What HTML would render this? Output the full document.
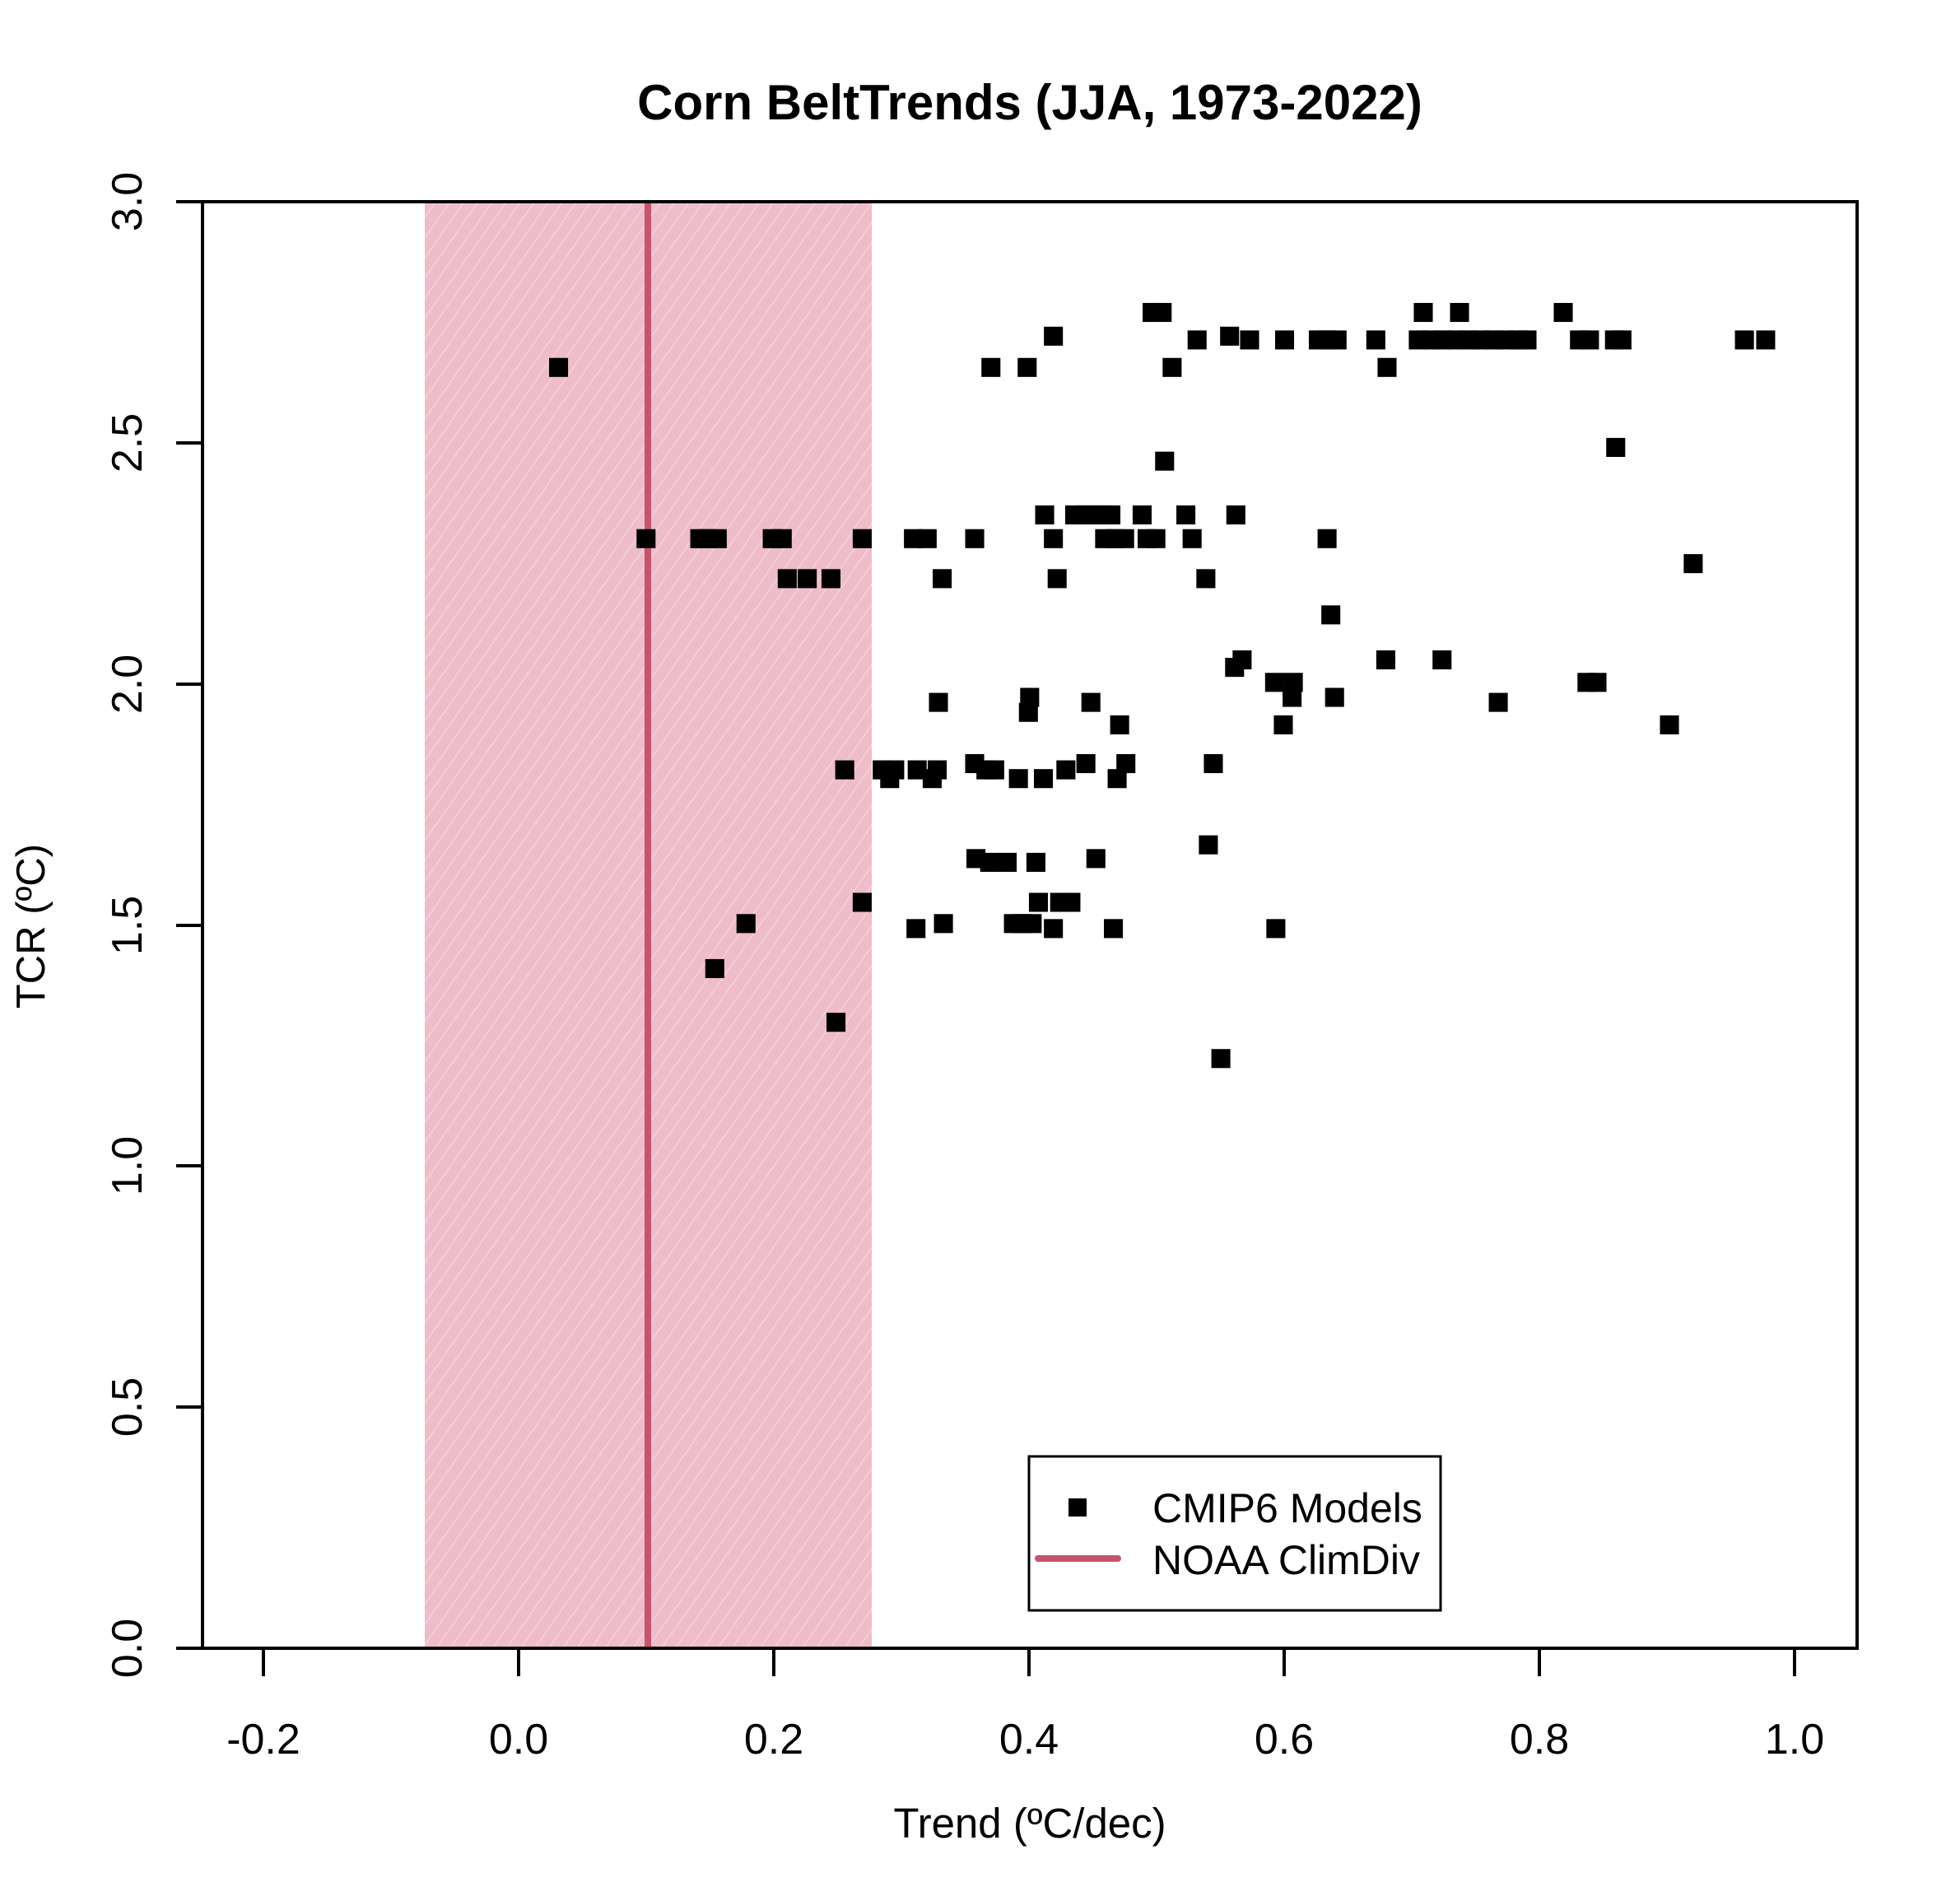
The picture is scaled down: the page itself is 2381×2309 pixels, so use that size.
<!DOCTYPE html>
<html><head><meta charset="utf-8"><style>html,body{margin:0;padding:0;background:#fff}svg{display:block}</style></head>
<body>
<svg width="2381" height="2309" viewBox="0 0 2381 2309" xmlns="http://www.w3.org/2000/svg" xmlns:xlink="http://www.w3.org/1999/xlink" font-family="Liberation Sans, Arial, sans-serif">
<defs>
<pattern id="h" patternUnits="userSpaceOnUse" width="14" height="14" patternTransform="rotate(35)">
<rect width="14" height="14" fill="#eebdc9"/>
<line x1="0" y1="0" x2="0" y2="14" stroke="#fff" stroke-opacity="0.45" stroke-width="2"/>
</pattern>
<rect id="s" x="-7.6" y="-7.6" width="15.2" height="15.2" fill="#000"/>
</defs>
<rect x="516" y="245" width="543" height="1757" fill="url(#h)"/>
<line x1="787" y1="245" x2="787" y2="2002" stroke="#c6546d" stroke-width="8"/>
<g transform="scale(1.518)">
<use href="#s" x="922" y="250"/><use href="#s" x="930" y="250"/><use href="#s" x="1139" y="250"/><use href="#s" x="1168" y="250"/><use href="#s" x="1251" y="250"/>
<use href="#s" x="843" y="269"/><use href="#s" x="984" y="269"/>
<use href="#s" x="958" y="272"/><use href="#s" x="1000" y="272"/><use href="#s" x="1028" y="272"/><use href="#s" x="1055" y="272"/><use href="#s" x="1062" y="272"/><use href="#s" x="1070" y="272"/><use href="#s" x="1101" y="272"/><use href="#s" x="1135" y="272"/><use href="#s" x="1145" y="272"/><use href="#s" x="1155" y="272"/><use href="#s" x="1165" y="272"/><use href="#s" x="1175" y="272"/><use href="#s" x="1185" y="272"/><use href="#s" x="1195" y="272"/><use href="#s" x="1205" y="272"/><use href="#s" x="1215" y="272"/><use href="#s" x="1222" y="272"/><use href="#s" x="1264" y="272"/><use href="#s" x="1272" y="272"/><use href="#s" x="1292" y="272"/><use href="#s" x="1298" y="272"/><use href="#s" x="1396" y="272"/><use href="#s" x="1413" y="272"/>
<use href="#s" x="447" y="294"/><use href="#s" x="793" y="294"/><use href="#s" x="822" y="294"/><use href="#s" x="938" y="294"/><use href="#s" x="1110" y="294"/>
<use href="#s" x="1293" y="358"/><use href="#s" x="932" y="369"/>
<use href="#s" x="836" y="412"/><use href="#s" x="860" y="412"/><use href="#s" x="868" y="412"/><use href="#s" x="875" y="412"/><use href="#s" x="882" y="412"/><use href="#s" x="889" y="412"/><use href="#s" x="914" y="412"/><use href="#s" x="949" y="412"/><use href="#s" x="989" y="412"/>
<use href="#s" x="517" y="431"/><use href="#s" x="560" y="431"/><use href="#s" x="566" y="431"/><use href="#s" x="574" y="431"/><use href="#s" x="618" y="431"/><use href="#s" x="626" y="431"/><use href="#s" x="690" y="431"/><use href="#s" x="731" y="431"/><use href="#s" x="742" y="431"/><use href="#s" x="780" y="431"/><use href="#s" x="843" y="431"/><use href="#s" x="884" y="431"/><use href="#s" x="892" y="431"/><use href="#s" x="900" y="431"/><use href="#s" x="918" y="431"/><use href="#s" x="925" y="431"/><use href="#s" x="954" y="431"/><use href="#s" x="1062" y="431"/>
<use href="#s" x="1355" y="451"/>
<use href="#s" x="630" y="463"/><use href="#s" x="646" y="463"/><use href="#s" x="665" y="463"/><use href="#s" x="754" y="463"/><use href="#s" x="846" y="463"/><use href="#s" x="965" y="463"/>
<use href="#s" x="1065" y="492"/>
<use href="#s" x="994" y="528"/><use href="#s" x="1109" y="528"/><use href="#s" x="1154" y="528"/><use href="#s" x="988" y="534"/>
<use href="#s" x="1020" y="546"/><use href="#s" x="1035" y="546"/><use href="#s" x="1270" y="546"/><use href="#s" x="1278" y="546"/>
<use href="#s" x="824" y="558"/><use href="#s" x="1034" y="558"/><use href="#s" x="1068" y="558"/>
<use href="#s" x="751" y="562"/><use href="#s" x="873" y="562"/><use href="#s" x="1199" y="562"/>
<use href="#s" x="823" y="570"/>
<use href="#s" x="896" y="580"/><use href="#s" x="1027" y="580"/><use href="#s" x="1336" y="580"/>
<use href="#s" x="780" y="611"/><use href="#s" x="869" y="611"/><use href="#s" x="901" y="611"/><use href="#s" x="971" y="611"/>
<use href="#s" x="676" y="616"/><use href="#s" x="706" y="616"/><use href="#s" x="716" y="616"/><use href="#s" x="734" y="616"/><use href="#s" x="750" y="616"/><use href="#s" x="789" y="616"/><use href="#s" x="796" y="616"/><use href="#s" x="853" y="616"/>
<use href="#s" x="712" y="623"/><use href="#s" x="746" y="623"/><use href="#s" x="815" y="623"/><use href="#s" x="835" y="623"/><use href="#s" x="894" y="623"/>
<use href="#s" x="967" y="676"/>
<use href="#s" x="781" y="687"/><use href="#s" x="877" y="687"/>
<use href="#s" x="792" y="690"/><use href="#s" x="806" y="690"/><use href="#s" x="829" y="690"/>
<use href="#s" x="690" y="722"/><use href="#s" x="831" y="722"/><use href="#s" x="848" y="722"/><use href="#s" x="857" y="722"/>
<use href="#s" x="597" y="739"/><use href="#s" x="755" y="739"/><use href="#s" x="811" y="739"/><use href="#s" x="818" y="739"/><use href="#s" x="826" y="739"/>
<use href="#s" x="733" y="743"/><use href="#s" x="843" y="743"/><use href="#s" x="891" y="743"/><use href="#s" x="1021" y="743"/>
<use href="#s" x="572" y="775"/><use href="#s" x="669" y="818"/><use href="#s" x="977" y="847"/>
</g>
<rect x="246" y="245" width="2010" height="1757" fill="none" stroke="#000" stroke-width="4"/>
<g stroke="#000" stroke-width="4">
<line x1="320" y1="2002" x2="320" y2="2036"/><line x1="630" y1="2002" x2="630" y2="2036"/><line x1="940" y1="2002" x2="940" y2="2036"/><line x1="1250" y1="2002" x2="1250" y2="2036"/><line x1="1560" y1="2002" x2="1560" y2="2036"/><line x1="1870" y1="2002" x2="1870" y2="2036"/><line x1="2180" y1="2002" x2="2180" y2="2036"/>
<line x1="214" y1="2002" x2="246" y2="2002"/><line x1="214" y1="1709" x2="246" y2="1709"/><line x1="214" y1="1416" x2="246" y2="1416"/><line x1="214" y1="1124" x2="246" y2="1124"/><line x1="214" y1="831" x2="246" y2="831"/><line x1="214" y1="538" x2="246" y2="538"/><line x1="214" y1="245" x2="246" y2="245"/>
</g>
<g font-size="52" text-anchor="middle" fill="#000">
<text x="320" y="2130">-0.2</text><text x="630" y="2130">0.0</text><text x="940" y="2130">0.2</text><text x="1250" y="2130">0.4</text><text x="1560" y="2130">0.6</text><text x="1870" y="2130">0.8</text><text x="2180" y="2130">1.0</text>
<text transform="translate(172,2002) rotate(-90)">0.0</text>
<text transform="translate(172,1709) rotate(-90)">0.5</text>
<text transform="translate(172,1416) rotate(-90)">1.0</text>
<text transform="translate(172,1124) rotate(-90)">1.5</text>
<text transform="translate(172,831) rotate(-90)">2.0</text>
<text transform="translate(172,538) rotate(-90)">2.5</text>
<text transform="translate(172,245) rotate(-90)">3.0</text>
<text x="1251" y="2232" font-size="51">Trend (ºC/dec)</text>
<text transform="translate(54,1125) rotate(-90)" font-size="49">TCR (ºC)</text>
</g>
<text x="1251" y="145" font-size="60" font-weight="bold" text-anchor="middle">Corn BeltTrends (JJA, 1973-2022)</text>
<rect x="1250" y="1769" width="500" height="187" fill="#fff" stroke="#000" stroke-width="3"/>
<rect x="1298" y="1820" width="22" height="22" fill="#000"/>
<line x1="1261" y1="1893" x2="1358" y2="1893" stroke="#c6546d" stroke-width="8" stroke-linecap="round"/>
<g font-size="50" fill="#000"><text x="1400" y="1849">CMIP6 Models</text><text x="1400" y="1912">NOAA ClimDiv</text></g>
</svg>
</body></html>
